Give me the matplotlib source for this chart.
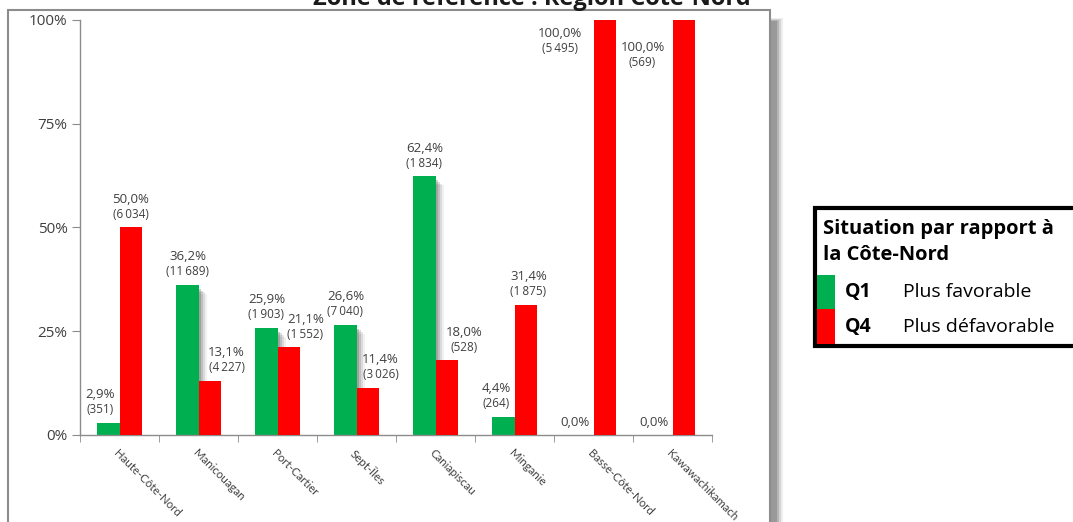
import numpy as np
import matplotlib.pyplot as plt
from matplotlib.patches import Rectangle

# MRC de la Côte-Nord
territoires = ["Haute-Côte-Nord", "Manicouagan", "Port-Cartier", "Sept-Îles",
               "Caniapiscau", "Minganie", "Basse-Côte-Nord", "Kawawachikamach"]
q1_pct = [2.9, 36.2, 25.9, 26.6, 62.4, 4.4, 0.0, 0.0]
q1_nb = [351, 11689, 1903, 7040, 1834, 264, None, None]
q4_pct = [50.0, 13.1, 21.1, 11.4, 18.0, 31.4, 100.0, 100.0]
q4_nb = [6034, 4227, 1552, 3026, 528, 1875, 5495, 569]

# decalage des etiquettes (pixels) pour eviter les chevauchements
q1_nudge = [(-8, 0), (0, 0), (0, 0), (0, 0), (0, 0), (-7, 0), (-7, 0), (-7, 0)]
q4_nudge = [(0, 0), (17, 0), (17, 0), (13, 0), (18, 0), (3, 0), (-45, -42), (-41, -56)]

VERT = "#00B050"
ROUGE = "#FF0000"
GRIS_TXT = "#404040"
FONT = "Lato"
FONT_LBL = "Open Sans"

W, H = 1073, 522
fig = plt.figure(figsize=(W / 100, H / 100), dpi=100)
fig.patch.set_facecolor("white")

def px(x0, y0, w, h):
    # rectangle en pixels (origine en haut a gauche) -> coords figure
    return (x0 / W, 1 - (y0 + h) / H), w / W, h / H

# ombre et cadre du graphique
for k, a in enumerate([0.12, 0.2, 0.3, 0.4]):
    (x, y), w, h = px(771, 18 + k, 12 - 2 * k, 520)
    fig.patches.append(Rectangle((x, y), w, h, transform=fig.transFigure,
                                 color="#707070", alpha=a, lw=0, zorder=0))
(x, y), w, h = px(8, 10, 762, 530)
fig.patches.append(Rectangle((x, y), w, h, transform=fig.transFigure,
                             facecolor="white", edgecolor="#8c8c8c", lw=1.5, zorder=1))

fig.text(532 / W, 1 - 5 / H, "Zone de référence : Région Côte-Nord",
         ha="center", va="baseline", fontsize=17, fontweight="bold",
         family=FONT_LBL, color="#1a1a1a")

ax = fig.add_axes([80 / W, (H - 435) / H, (712 - 80) / W, (435 - 20) / H])
ax.set_facecolor("none")
ax.set_zorder(2)

x = np.arange(len(territoires))
bw = 0.28

# ombre portee des barres vertes
for k, a in enumerate([0.08, 0.14, 0.2, 0.28]):
    ax.bar(x - bw / 2 + 0.03 + 0.025 * (3 - k), np.maximum(np.array(q1_pct) - 1.0 - 0.4 * (3 - k), 0),
           bw, bottom=0, color="#555555", alpha=a, lw=0, zorder=1)

ax.bar(x - bw / 2, q1_pct, bw, color=VERT, zorder=2)
ax.bar(x + bw / 2, q4_pct, bw, color=ROUGE, zorder=3)

def fmt_pct(v):
    return f"{v:.1f}%".replace(".", ",")

def fmt_nb(n):
    return "(" + f"{n:,}".replace(",", "\u2009") + ")"

def etiquette(xc, val, nb, nudge):
    dx, dy = nudge
    if nb is None:
        ax.annotate(fmt_pct(val), (xc, val), xytext=(dx, 13 + dy),
                    textcoords="offset pixels", ha="center", va="center",
                    fontsize=9.5, family=FONT_LBL, color=GRIS_TXT, zorder=5)
        return
    ax.annotate(fmt_pct(val), (xc, val), xytext=(dx, 28 + dy),
                textcoords="offset pixels", ha="center", va="center",
                fontsize=9.5, family=FONT_LBL, color=GRIS_TXT, zorder=5)
    ax.annotate(fmt_nb(nb), (xc, val), xytext=(dx, 13 + dy),
                textcoords="offset pixels", ha="center", va="center",
                fontsize=8.5, family=FONT_LBL, color=GRIS_TXT, zorder=5)

for i in range(len(territoires)):
    etiquette(x[i] - bw / 2, q1_pct[i], q1_nb[i], q1_nudge[i])
    etiquette(x[i] + bw / 2, q4_pct[i], q4_nb[i], q4_nudge[i])

ax.set_xlim(-0.5, len(territoires) - 0.5)
ax.set_ylim(0, 100)
ax.set_yticks([0, 25, 50, 75, 100])
ax.set_yticklabels(["0%", "25%", "50%", "75%", "100%"])
ax.set_xticks(x)
ax.set_xticklabels(territoires, rotation=-45, ha="left", va="top",
                   rotation_mode="anchor")
ax.set_xticks(np.arange(-0.5, len(territoires)), minor=True)
ax.tick_params(axis="x", which="major", length=0, pad=9, labelsize=8.3,
               labelcolor=GRIS_TXT)
ax.tick_params(axis="x", which="minor", length=5, color="#8c8c8c", direction="out")
ax.tick_params(axis="y", length=6, color="#8c8c8c", direction="out", pad=3,
               labelsize=11, labelcolor=GRIS_TXT)
for lab in ax.get_xticklabels():
    lab.set_family(FONT)
for lab in ax.get_yticklabels():
    lab.set_family(FONT_LBL)
for s in ["top", "right"]:
    ax.spines[s].set_visible(False)
for s in ["left", "bottom"]:
    ax.spines[s].set_color("#8c8c8c")
    ax.spines[s].set_linewidth(1)

# legende
(x0, y0), w, h = px(815, 208, 262, 138)
fig.patches.append(Rectangle((x0, y0), w, h, transform=fig.transFigure,
                             facecolor="white", edgecolor="black", lw=3, zorder=3))
(x0, y0), w, h = px(817, 275, 18, 34)
fig.patches.append(Rectangle((x0, y0), w, h, transform=fig.transFigure,
                             color=VERT, lw=0, zorder=4))
(x0, y0), w, h = px(817, 309, 18, 35)
fig.patches.append(Rectangle((x0, y0), w, h, transform=fig.transFigure,
                             color=ROUGE, lw=0, zorder=4))
fig.text(823 / W, 1 - 229 / H, "Situation par rapport à", fontsize=14.5,
         fontweight="bold", family=FONT_LBL, va="center", ha="left", zorder=5)
fig.text(823 / W, 1 - 255 / H, "la Côte-Nord", fontsize=14.5,
         fontweight="bold", family=FONT_LBL, va="center", ha="left", zorder=5)
for yy, code, lib in [(292, "Q1", "Plus favorable"), (327, "Q4", "Plus défavorable")]:
    fig.text(845 / W, 1 - yy / H, code, fontsize=14, fontweight="bold",
             family=FONT_LBL, va="center", ha="left", zorder=5)
    fig.text(903 / W, 1 - yy / H, lib, fontsize=14, family=FONT_LBL,
             va="center", ha="left", zorder=5)

fig.savefig("out.png", dpi=100)
